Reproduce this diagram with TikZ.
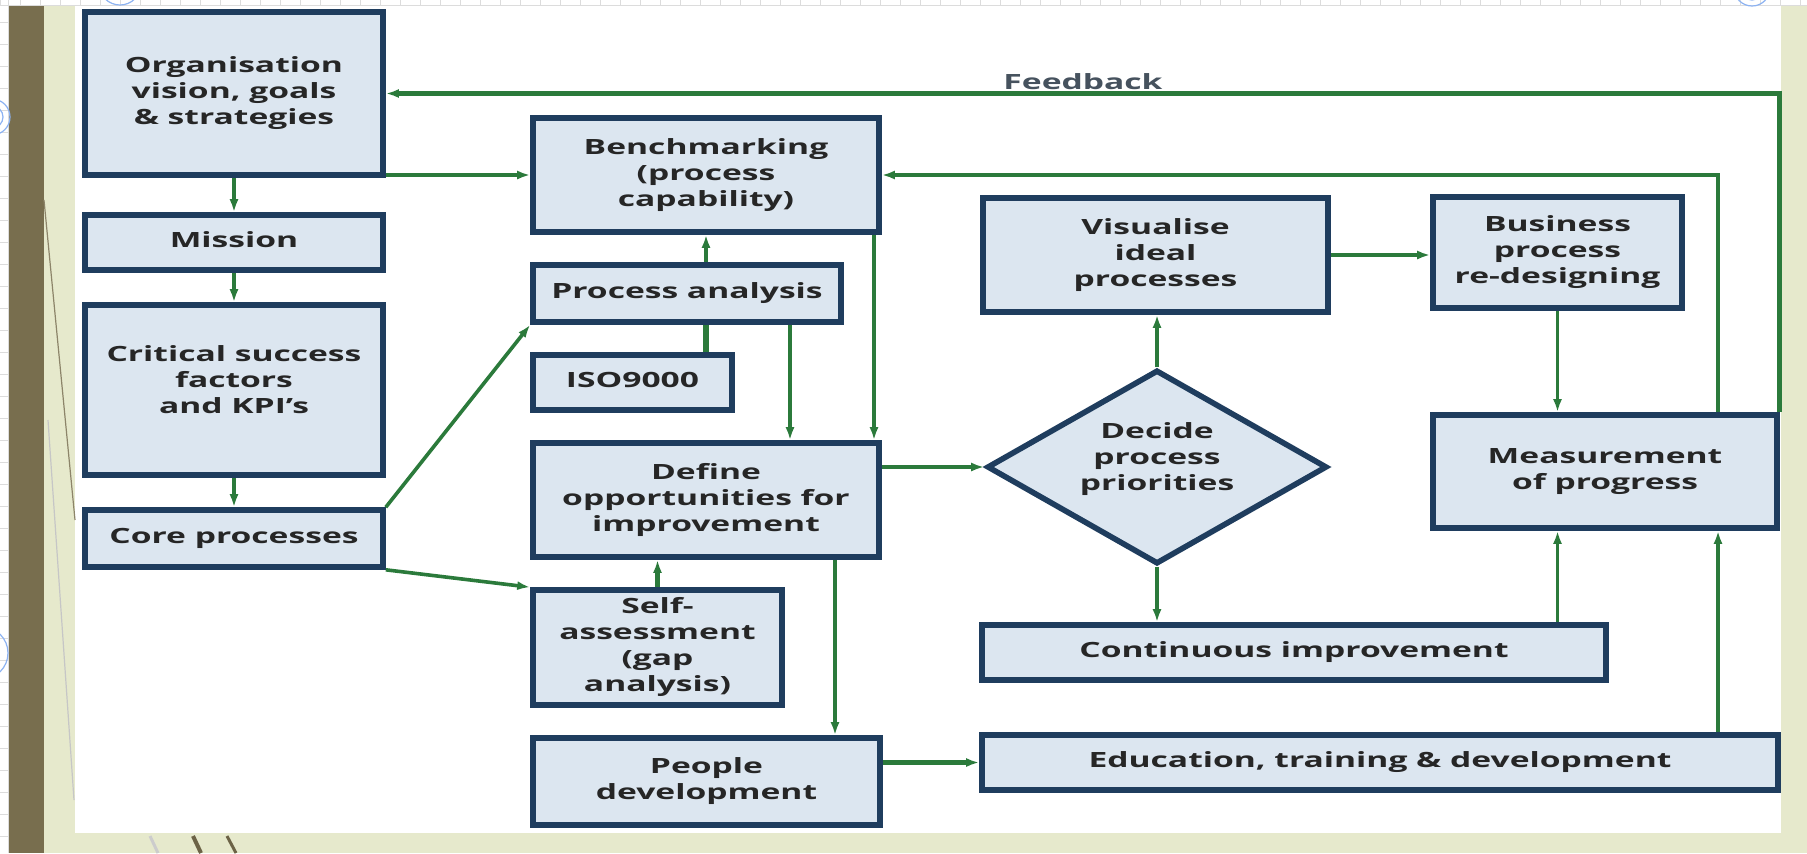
\documentclass[tikz,border=0pt]{standalone}
\usepackage{fontspec}
\setmainfont{Open Sans}
\usepackage{graphicx}
\usetikzlibrary{arrows.meta,shapes.geometric,calc}

\definecolor{flowgreen}{HTML}{2B7A3B}
\definecolor{boxedge}{HTML}{1F3D5E}
\definecolor{boxfill}{HTML}{DCE6F0}
\definecolor{inktext}{HTML}{262626}
\definecolor{olivebar}{HTML}{786E4E}
\definecolor{beige}{HTML}{E6E9CC}
\definecolor{gridgrey}{HTML}{DCDCDC}
\definecolor{ringblue}{HTML}{8DB3F2}
\definecolor{fbgrey}{HTML}{46525E}

% wide bold lettering, one or more centred lines
\newcommand{\wtext}[1]{\scalebox{1.6}[1]{\def\arraystretch{1.04}\begin{tabular}{@{}c@{}}#1\end{tabular}}}

\tikzset{
  box/.style={rectangle, draw=boxedge, line width=2.8pt, fill=boxfill, inner sep=0pt,
    text=inktext, font=\fontsize{10.5}{12.5}\selectfont\bfseries},
  txt/.style={inner sep=0pt, text=inktext, font=\fontsize{10.5}{12.5}\selectfont\bfseries},
  decision/.style={diamond, aspect=1.75, draw=boxedge, line width=2.8pt, fill=boxfill,
    inner sep=0pt, minimum width=170pt, minimum height=97pt},
  flow/.style={draw=flowgreen, line width=2.4pt, -{Latex[length=6.5pt,width=4.5pt]}},
  flowthin/.style={flow, line width=1.8pt},
  link/.style={draw=flowgreen, line width=2.8pt},
  fblabel/.style={inner sep=0pt, text=fbgrey, font=\fontsize{10.5}{12.5}\selectfont\bfseries},
}

\begin{document}
\begin{tikzpicture}[x=0.5pt, y=-0.5pt]
\useasboundingbox (0,0) rectangle (1807,853);

% ---- slide background ----
\fill[white] (0,0) rectangle (1807,853);
\fill[beige] (44,5) rectangle (1807,853);
\fill[white] (75,5) rectangle (1781,833);
\fill[olivebar] (8,5) rectangle (44,853);
\begin{scope}[draw=gridgrey, line width=0.4pt]
  \foreach \gx in {0,20,...,1800} \draw (\gx,0) -- (\gx,5);
  \draw (0,5) -- (1807,5);
  \foreach \gy in {22,44,...,850} \draw (0,\gy) -- (8,\gy);
  \draw (8,0) -- (8,853);
\end{scope}
\draw[olivebar!85, line width=0.6pt] (44,200) -- (75,520);
\draw[gray!45, line width=0.6pt] (48,420) -- (74,800);
\draw[gray!40, line width=1.5pt] (150,836) -- (158,853);
\draw[olivebar!90!black, line width=2pt] (193,836) -- (201,853);
\draw[olivebar!90!black, line width=1.5pt] (227,836) -- (236,853);
\begin{scope}[draw=ringblue, line width=0.6pt]
  \draw (120,-16) circle (21);
  \draw (-8,117) circle (18);
  \draw (-8,117) circle (11);
  \draw (-18,653) circle (26);
  \draw (1752,-12) circle (18);
  \draw (1752,-8) circle (8);
\end{scope}

% ---- left column ----
\node[box, minimum width=149pt, minimum height=81.5pt] (org) at (234,93.5)
  {\wtext{Organisation\\vision, goals\\\& strategies}};
\node[box, minimum width=149pt, minimum height=27.5pt] (mission) at (234,242.5)
  {\wtext{Mission}};
\node[box, minimum width=149pt, minimum height=85pt] (csf) at (234,390) {};
\node[txt] (csft) at ([yshift=4pt]csf.center) {\wtext{Critical success\\factors\\and KPI's}};
\node[box, minimum width=149pt, minimum height=28.5pt] (core) at (234,538.5)
  {\wtext{Core processes}};

% ---- middle column ----
\node[box, minimum width=173pt, minimum height=57pt] (bench) at (706,175)
  {\wtext{Benchmarking\\(process\\capability)}};
\node[box, minimum width=154pt, minimum height=28.5pt] (pa) at (687,293.5)
  {\wtext{Process analysis}};
\node[box, minimum width=99.5pt, minimum height=27.5pt] (iso) at (632.5,382.5)
  {\wtext{ISO9000}};
\node[box, minimum width=173pt, minimum height=57pt] (define) at (706,500)
  {\wtext{Define\\opportunities for\\improvement}};
\node[box, minimum width=124.5pt, minimum height=57.5pt] (self) at (657.5,647.5)
  {\wtext{Self-\\assessment\\(gap\\analysis)}};
\node[box, minimum width=173.5pt, minimum height=43.5pt] (people) at (706.5,781.5)
  {\wtext{People\\development}};

% ---- right part ----
\node[box, minimum width=172.5pt, minimum height=57pt] (vis) at (1155.5,255)
  {\wtext{Visualise\\ideal\\processes}};
\node[decision] (dec) at (1157,467) {};
\node[txt] (dect) at ([yshift=4pt]dec.center) {\wtext{Decide\\process\\priorities}};
\node[box, minimum width=124.5pt, minimum height=55.5pt] (bus) at (1557.5,252.5)
  {\wtext{Business\\process\\re-designing}};
\node[box, minimum width=172pt, minimum height=56.5pt] (meas) at (1605,471.5)
  {\wtext{Measurement\\of progress}};
\node[box, minimum width=312pt, minimum height=27.5pt] (cont) at (1294,652.5)
  {\wtext{Continuous improvement}};
\node[box, minimum width=398pt, minimum height=27.5pt] (edu) at (1380,762.5)
  {\wtext{Education, training \& development}};

% columns used by vertical connectors
\coordinate (xpd) at (790,0);
\coordinate (xbd) at (874,0);
\coordinate (xdp) at (835,0);
\coordinate (xr) at (1718,0);

% ---- connectors ----
\draw[flow] (org.south) -- (mission.north);
\draw[flow] (mission.south) -- (csf.north);
\draw[flow] (csf.south) -- (core.north);
\draw[flow] (bench.west -| org.east) -- (bench.west);
\draw[flowthin] (core.north east) -- (pa.south west);
\draw[flowthin] (core.south east) -- (self.north west);

\draw[flow] (pa.north -| bench.south) -- (bench.south);
\draw[link] (iso.north -| bench.south) -- (pa.south -| bench.south);
\draw[flow] (pa.south -| xpd) -- (define.north -| xpd);
\draw[flow] (bench.south -| xbd) -- (define.north -| xbd);
\draw[flow] (self.north) -- (self.north |- define.south);
\draw[flow] (define.south -| xdp) -- (people.north -| xdp);
\draw[flow] (edu.west -| people.east) -- (edu.west);
\draw[flow] (dec.west -| define.east) -- (dec.west);

\draw[flow] (dec.north) -- (dec.north |- vis.south);
\draw[flow] (dec.south) -- (dec.south |- cont.north);
\draw[flowthin] (vis.east) -- (vis.east -| bus.west);
\draw[flowthin] (bus.south) -- (bus.south |- meas.north);
\draw[flowthin] (cont.north -| bus.south) -- (meas.south -| bus.south);
\draw[flowthin] (edu.north -| xr) -- (meas.south -| xr);

% feedback loops
\draw[flow] (meas.north -| xr) |- (bench.east);
\draw[flow] (meas.north east) |- (org.east);
\node[fblabel] (fb) at (1083,82) {\scalebox{1.6}[1]{Feedback}};
\end{tikzpicture}
\end{document}
